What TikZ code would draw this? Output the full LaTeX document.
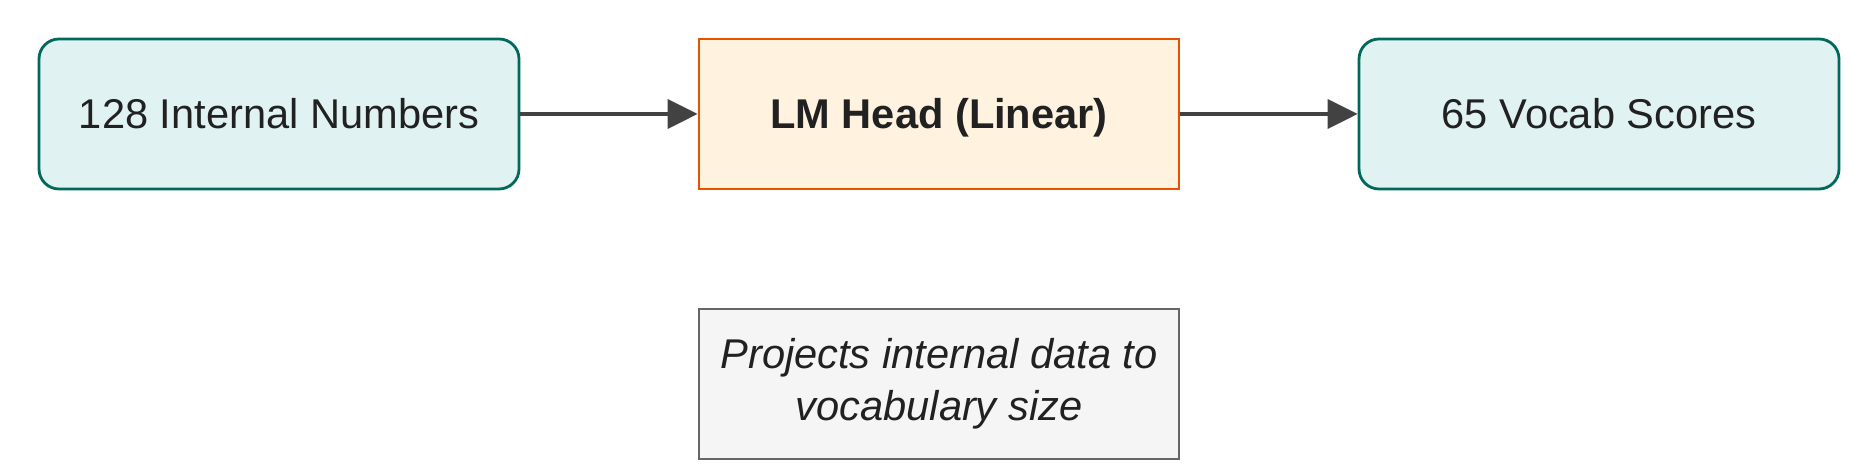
\documentclass[tikz,border=0pt]{standalone}
\usepackage{fontspec}
\setmainfont{Liberation Sans}
\usetikzlibrary{arrows.meta}
\definecolor{tealfill}{HTML}{E0F2F1}
\definecolor{tealdraw}{HTML}{00695C}
\definecolor{orfill}{HTML}{FFF3E0}
\definecolor{ordraw}{HTML}{E65100}
\definecolor{grfill}{HTML}{F5F5F5}
\definecolor{grdraw}{HTML}{666666}
\definecolor{arr}{HTML}{424242}
\definecolor{txt}{HTML}{212121}
\tikzset{
  base/.style={minimum width=240pt, minimum height=75pt, inner sep=0pt, line width=1.4pt, text=txt,
    font=\fontsize{20.8pt}{26pt}\selectfont, align=center},
  oneline/.style={text height=15pt, text depth=0pt},
  iobox/.style={base, oneline, rounded corners=10pt, fill=tealfill, draw=tealdraw},
  opbox/.style={base, oneline, fill=orfill, draw=ordraw},
  notebox/.style={base, fill=grfill, draw=grdraw},
  conn/.style={draw=arr, line width=1.8pt, -{Triangle[length=15pt,width=14.5pt]}}
}
\begin{document}
\begin{tikzpicture}[x=0.5pt,y=0.5pt]
\useasboundingbox (0,0) rectangle (1855,475);
\fill[white] (0,0) rectangle (1855,475);
\node[iobox] (in) at (279,361) {128 Internal Numbers};
\node[opbox] (lm) at (939,361) {\bfseries LM Head (Linear)};
\node[iobox] (out) at (1599,361) {65 Vocab Scores};
\node[notebox] (note) at (939,91) {\itshape Projects internal data to\\\itshape vocabulary size};
\draw[conn] (in) -- (lm);
\draw[conn] (lm) -- (out);
\end{tikzpicture}
\end{document}
